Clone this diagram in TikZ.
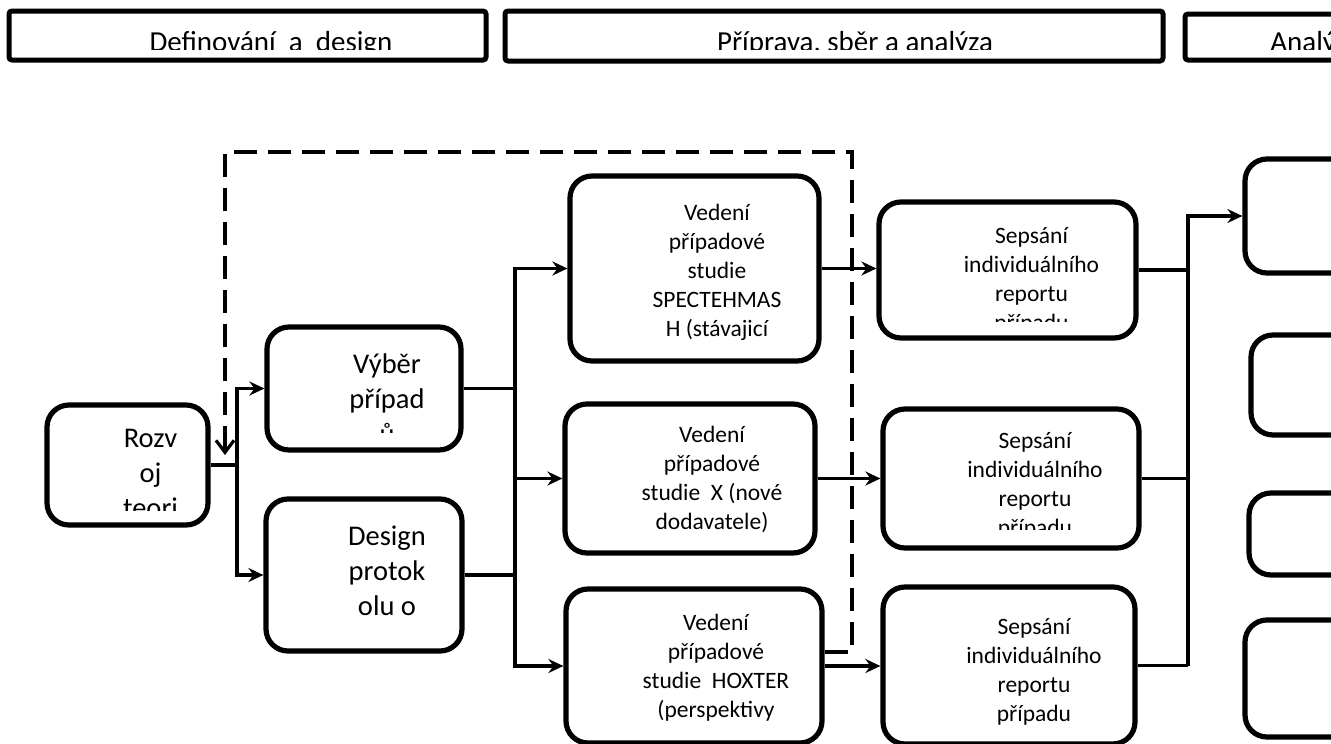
\documentclass[tikz,border=0pt]{standalone}
\usepackage{fontspec}
\setmainfont{Carlito}
\usetikzlibrary{arrows.meta, positioning, calc}
\tikzset{
  hlava/.style={draw, line width=5pt, rounded corners=3pt, inner sep=0pt},
  krok/.style={draw, line width=5.2pt, rounded corners=22pt, inner sep=0pt},
  popis/.style={anchor=base, inner sep=0pt},
  spoj/.style={line width=3.1pt},
  sipka/.style={line width=3.1pt, -{Stealth[length=15pt, width=14pt, inset=5pt]}},
  zpetna/.style={line width=3.2pt, dash pattern=on 23pt off 11pt, -{Straight Barb[length=12pt, width=18pt]}}
}
\newcommand{\hlavni}{\fontsize{29}{35}\selectfont}
\newcommand{\velky}{\fontsize{28.5}{35}\selectfont}
\newcommand{\maly}{\fontsize{23.5}{29}\selectfont}
% text v kroku, oriznuty dole
\newcommand{\textkroku}[6]{
    \begin{scope}
        \clip (0,0) rectangle (1400,#4);
        \node[popis, font=#5] (#1) at (#2,#3) {\parbox[t]{13cm}{\centering #6}};
    \end{scope}
}

\begin{document}
\begin{tikzpicture}[x=1pt, y=-1pt]
        \useasboundingbox (0,0) rectangle (1331,744);

        % ==========================================
        % 1. Faze nahore
        % ==========================================
        \node[hlava, minimum width=477pt, minimum height=49pt] (faze1) at (247.5,35.5) {};
        \node[hlava, minimum width=658pt, minimum height=50pt] (faze2) at (834,36) {};
        \node[hlava, minimum width=215pt, minimum height=46pt] (faze3) at (1292.5,37) {};
        \textkroku{faze1-t}{271}{51}{49}{\hlavni}{Definování\ \ a\ \ design}
        \textkroku{faze2-t}{855}{51}{49}{\hlavni}{Příprava, sběr a analýza}
        \textkroku{faze3-t}{1315.5}{51}{49}{\hlavni}{Analýza}

        % ==========================================
        % 2. Kroky
        % ==========================================
        \node[krok, minimum width=161pt, minimum height=120pt] (rozvoj) at (127.5,465) {};
        \node[krok, minimum width=194pt, minimum height=123pt] (vyber) at (364,388.5) {};
        \node[krok, minimum width=196pt, minimum height=152pt] (design) at (364,575) {};

        \node[krok, minimum width=249pt, minimum height=185pt] (ved1) at (694.5,268.5) {};
        \node[krok, minimum width=250pt, minimum height=149pt] (ved2) at (690,478.5) {};
        \node[krok, minimum width=256pt, minimum height=154pt] (ved3) at (694,666) {};

        \node[krok, minimum width=257pt, minimum height=136pt] (seps1) at (1007.5,270) {};
        \node[krok, minimum width=256pt, minimum height=139pt] (seps2) at (1011,478.5) {};
        \node[krok, minimum width=252pt, minimum height=157pt] (seps3) at (1009,665.5) {};

        \node[krok, minimum width=155pt, minimum height=114pt] (ana1) at (1322.5,216) {};
        \node[krok, minimum width=149pt, minimum height=100pt] (ana2) at (1325.5,385) {};
        \node[krok, minimum width=151pt, minimum height=82pt] (ana3) at (1324.5,534) {};
        \node[krok, minimum width=155pt, minimum height=117pt] (ana4) at (1322.5,678.5) {};

        % Texty v krocich
        \textkroku{rozvoj-t}{150.5}{447}{510}{\velky}{Rozv\\oj\\teori}
        \textkroku{vyber-t}{387}{373}{432}{\velky}{Výběr\\případ\\ů}
        \textkroku{design-t}{387}{545}{632}{\velky}{Design\\protok\\olu o}
        \textkroku{ved1-t}{717}{220}{344}{\maly}{Vedení\\případové\\studie\\SPECTEHMAS\\H (stávajicí}
        \textkroku{ved2-t}{712}{442}{540}{\maly}{Vedení\\případové\\studie\ \ X (nové\\dodavatele)}
        \textkroku{ved3-t}{716}{630}{744}{\maly}{Vedení\\případové\\studie\ \ HOXTER\\(perspektivy}
        \textkroku{seps1-t}{1031.5}{243}{321}{\maly}{Sepsání\\individuálního\\reportu\\případu}
        \textkroku{seps2-t}{1035}{448}{529}{\maly}{Sepsání\\individuálního\\reportu\\případu}
        \textkroku{seps3-t}{1034}{634}{744}{\maly}{Sepsání\\individuálního\\reportu\\případu}

        % ==========================================
        % 3. Spojnice
        % ==========================================
        \coordinate (j1) at (237,465);
        \coordinate (j2) at (515,478.5);
        \coordinate (j3) at (1188,466);

        \draw[spoj] (rozvoj.east) -- (j1);
        \draw[sipka] (j1) |- (vyber.west);
        \draw[sipka] (j1) |- (design.west);

        \draw[spoj] (vyber.east) -- (vyber.east -| j2);
        \draw[spoj] (design.east) -- (design.east -| j2);
        \draw[sipka] (design.east -| j2) |- (ved1.west);
        \draw[sipka] (design.east -| j2) |- (ved3.west);
        \draw[sipka] (j2) -- (ved2.west);

        \draw[sipka] (ved1.east) -- (ved1.east -| seps1.west);
        \draw[sipka] (ved2.east) -- (ved2.east -| seps2.west);
        \draw[sipka] (ved3.east) -- (ved3.east -| seps3.west);

        \draw[spoj] (seps1.east) -- (seps1.east -| j3);
        \draw[spoj] (seps2.east) -- (seps2.east -| j3);
        \draw[spoj] (seps3.east) -- (seps3.east -| j3);
        \draw[sipka] (seps3.east -| j3) |- (ana1.west);

        % Zpetna vazba (carkovane)
        \coordinate (roh1) at (852,152);
        \coordinate (roh2) at (225,152);
        \coordinate (navrat) at (225,455);
        \draw[zpetna] ([yshift=14pt]ved3.east) -| (roh1) -- (roh2) -- (navrat);

\end{tikzpicture}
\end{document}
